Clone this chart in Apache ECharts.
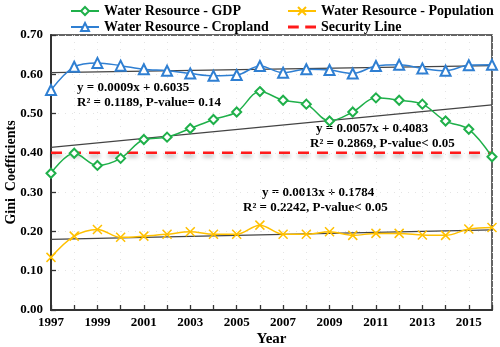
<!DOCTYPE html>
<html>
<head>
<meta charset="utf-8">
<script src="https://cdn.jsdelivr.net/npm/echarts@6/dist/echarts.min.js"></script>
<style>
html, body { margin: 0; padding: 0; background: #fff; }
#chart { width: 500px; height: 347px; }
</style>
</head>
<body>
<div id="chart"></div>
<script>
// data
var years = ['1997','1998','1999','2000','2001','2002','2003','2004','2005','2006',
	'2007','2008','2009','2010','2011','2012','2013','2014','2015','2016'];
var gdp = [0.348, 0.399, 0.368, 0.386, 0.434, 0.440, 0.462, 0.485, 0.504, 0.556,
	0.534, 0.524, 0.481, 0.504, 0.540, 0.534, 0.524, 0.481, 0.460, 0.390];
var cropland = [0.560, 0.619, 0.629, 0.622, 0.613, 0.609, 0.602, 0.596, 0.598, 0.621,
	0.604, 0.613, 0.611, 0.602, 0.621, 0.624, 0.615, 0.609, 0.623, 0.624];
var population = [0.134, 0.188, 0.205, 0.185, 0.188, 0.193, 0.199, 0.193, 0.193, 0.216,
	0.193, 0.193, 0.199, 0.190, 0.195, 0.195, 0.191, 0.190, 0.206, 0.210];
var securityLine = 0.40;
// trend lines, first and last year
var trendGdp = [0.414, 0.522];
var trendCropland = [0.604, 0.622];
var trendPopulation = [0.180, 0.204];
var yTicks = { min: 0, max: 0.7, interval: 0.1 };

var font = 'Liberation Serif';
var cGreen = '#1fb04a', cBlue = '#2f7fd2', cYellow = '#ffc000', cRed = '#ff1a1a', cTrend = '#444';

function trendData(t) {
	var d = [];
	for (var i = 0; i < years.length; i++) {
		d.push(i == 0 ? t[0] : (i == years.length - 1 ? t[1] : '-'));
	}
	return d;
}
var secData = [];
for (var i = 0; i < years.length; i++) secData.push(securityLine);

var myChart = echarts.init(document.getElementById('chart'));
var trendStyle = { color: cTrend, width: 1.3 };
var legendText = { fontFamily: font, fontWeight: 'bold', fontSize: 14, color: '#000' };

var option = {
	animation: false,
	grid: { left: 51, right: 8, top: 35, bottom: 37, containLabel: false, outerBoundsMode: 'none',
		show: true, borderColor: '#333', borderWidth: 1.5 },
	legend: [{
		left: 65, top: -1, orient: 'vertical', itemGap: 2, itemWidth: 28, itemHeight: 10,
		textStyle: legendText,
		data: ['Water Resource - GDP', 'Water Resource - Cropland']
	}, {
		left: 282, top: -1, orient: 'vertical', itemGap: 2, itemWidth: 28, itemHeight: 10,
		textStyle: legendText,
		data: ['Water Resource - Population',
			{ name: 'Security Line', icon: 'path://M0,0h10v3h-10z M16,0h10v3h-10z', itemStyle: { color: cRed } }]
	}],
	xAxis: {
		type: 'category', data: years, boundaryGap: false,
		name: 'Year', nameLocation: 'middle', nameGap: 22, nameMoveOverlap: false,
		nameTextStyle: { fontFamily: font, fontWeight: 'bold', fontSize: 15, color: '#000' },
		axisLine: { lineStyle: { color: '#333', width: 2 } },
		axisTick: { inside: true, length: 5, interval: 0, lineStyle: { color: '#333', width: 1.3 } },
		axisLabel: { interval: 1, margin: 6, fontFamily: font, fontWeight: 'bold', fontSize: 13, color: '#000' },
		splitLine: { show: true, interval: 0, lineStyle: { color: '#e4e4e4', type: [1, 6] } }
	},
	yAxis: {
		type: 'value', min: yTicks.min, max: yTicks.max, interval: yTicks.interval,
		name: 'Gini  Coefficients', nameLocation: 'middle', nameGap: 33, nameMoveOverlap: false,
		nameTextStyle: { fontFamily: font, fontWeight: 'bold', fontSize: 14, color: '#000' },
		axisLine: { show: true, lineStyle: { color: '#333', width: 2 } },
		axisTick: { show: true, inside: true, length: 5, lineStyle: { color: '#333', width: 1.3 } },
		axisLabel: { margin: 8, fontFamily: font, fontWeight: 'bold', fontSize: 13, color: '#000',
			formatter: function(v) { return v.toFixed(2); } },
		splitLine: { show: true, lineStyle: { color: '#e4e4e4', type: [1, 6] } }
	},
	series: [{
		name: 'Water Resource - GDP', type: 'line', data: gdp, smooth: 0.35,
		symbol: 'emptyDiamond', symbolSize: 9, z: 5,
		lineStyle: { color: cGreen, width: 1.5 },
		itemStyle: { color: cGreen, borderColor: cGreen, borderWidth: 1.3 }
	}, {
		name: 'Water Resource - Cropland', type: 'line', data: cropland, smooth: 0.35,
		symbol: 'emptyTriangle', symbolSize: 10, z: 5,
		lineStyle: { color: cBlue, width: 1.5 },
		itemStyle: { color: cBlue, borderColor: cBlue, borderWidth: 1.5 }
	}, {
		name: 'Water Resource - Population', type: 'line', data: population, smooth: 0.35,
		symbol: 'path://M0,0L10,10M10,0L0,10', symbolSize: 9, z: 5,
		lineStyle: { color: cYellow, width: 1.5 },
		itemStyle: { color: cYellow, borderColor: cYellow, borderWidth: 1.5 }
	}, {
		name: 'Security Line', type: 'line', data: secData, symbol: 'none', z: 4,
		lineStyle: { color: cRed, width: 2.5, type: [11, 8],
			shadowColor: 'rgba(0,0,0,0.35)', shadowBlur: 4, shadowOffsetY: 3 },
		itemStyle: { color: cRed }
	}, {
		name: 'trendGdp', type: 'line', data: trendData(trendGdp), connectNulls: true,
		symbol: 'none', lineStyle: trendStyle, z: 3, silent: true
	}, {
		name: 'trendCropland', type: 'line', data: trendData(trendCropland), connectNulls: true,
		symbol: 'none', lineStyle: trendStyle, z: 3, silent: true
	}, {
		name: 'trendPopulation', type: 'line', data: trendData(trendPopulation), connectNulls: true,
		symbol: 'none', lineStyle: trendStyle, z: 3, silent: true
	}],
	graphic: [
		{ type: 'text', left: 77, top: 81, style: { text: 'y = 0.0009x + 0.6035', font: 'bold 13px "Liberation Serif"', fill: '#000' } },
		{ type: 'text', left: 77, top: 96, style: { text: 'R² = 0.1189, P-value= 0.14', font: 'bold 13px "Liberation Serif"', fill: '#000' } },
		{ type: 'text', left: 316, top: 122, style: { text: 'y = 0.0057x + 0.4083', font: 'bold 13px "Liberation Serif"', fill: '#000' } },
		{ type: 'text', left: 310, top: 137, style: { text: 'R² = 0.2869, P-value< 0.05', font: 'bold 13px "Liberation Serif"', fill: '#000' } },
		{ type: 'text', left: 262, top: 186, style: { text: 'y = 0.0013x + 0.1784', font: 'bold 13px "Liberation Serif"', fill: '#000' } },
		{ type: 'text', left: 243, top: 201, style: { text: 'R² = 0.2242, P-value< 0.05', font: 'bold 13px "Liberation Serif"', fill: '#000' } }
	]
};
myChart.setOption(option);
</script>
</body>
</html>
